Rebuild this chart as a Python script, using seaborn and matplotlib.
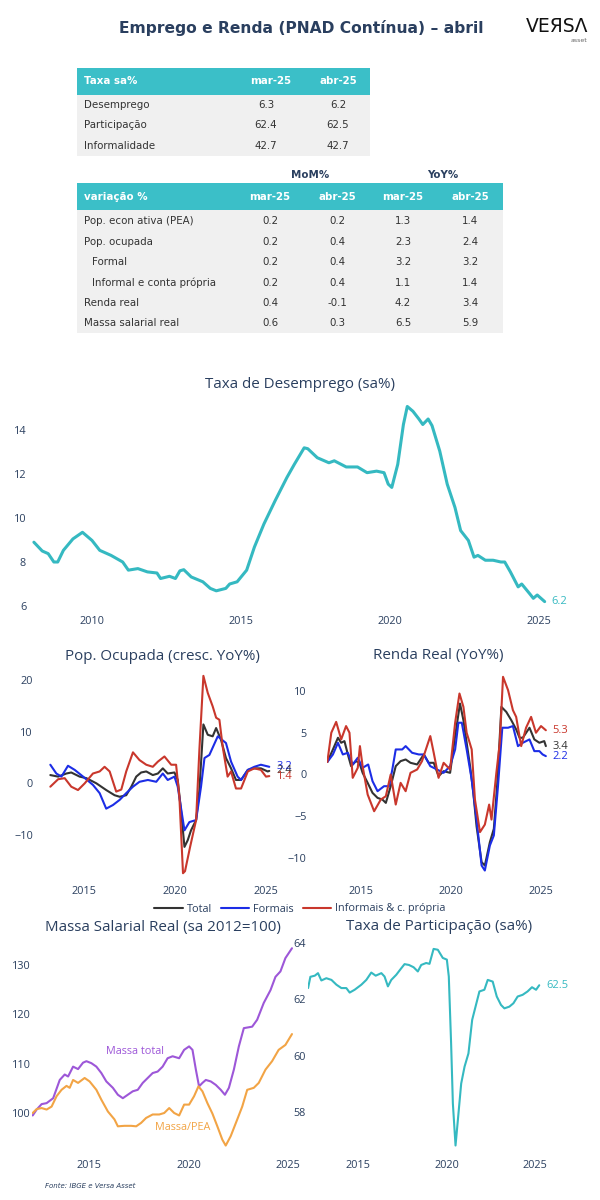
import matplotlib
matplotlib.use("Agg")
import matplotlib.pyplot as plt
from matplotlib.lines import Line2D
from matplotlib.patches import Rectangle
import seaborn as sns

# ---- tables ----
tax_cols = ["mar-25", "abr-25"]
tax_rows = ["Desemprego", "Participação", "Informalidade"]
tax_vals = [[6.3, 6.2], [62.4, 62.5], [42.7, 42.7]]

var_rows = ["Pop. econ ativa (PEA)", "Pop. ocupada", "Formal",
            "Informal e conta própria", "Renda real", "Massa salarial real"]
var_indent = [False, False, True, True, False, False]
var_mom = [[0.2, 0.2], [0.2, 0.4], [0.2, 0.4], [0.2, 0.4], [0.4, -0.1], [0.6, 0.3]]
var_yoy = [[1.3, 1.4], [2.3, 2.4], [3.2, 3.2], [1.1, 1.4], [4.2, 3.4], [6.5, 5.9]]

# ---- Taxa de desemprego (sa%) ----
unemp_t = [2008.05, 2008.33, 2008.53, 2008.72, 2008.85, 2009.04, 2009.36, 2009.68, 2010.0,
           2010.26, 2010.64, 2011.03, 2011.22, 2011.54, 2011.86, 2012.18, 2012.3, 2012.6,
           2012.8, 2012.95, 2013.08, 2013.33, 2013.72, 2013.97, 2014.17, 2014.49, 2014.62,
           2014.87, 2015.19, 2015.45, 2015.77, 2016.15, 2016.54, 2016.79, 2017.12, 2017.24,
           2017.56, 2017.95, 2018.13, 2018.53, 2018.91, 2019.23, 2019.55, 2019.8, 2019.94,
           2020.06, 2020.26, 2020.45, 2020.58, 2020.77, 2020.97, 2021.1, 2021.28, 2021.41,
           2021.67, 2021.92, 2022.18, 2022.37, 2022.63, 2022.82, 2022.95, 2023.2, 2023.46,
           2023.72, 2023.85, 2024.04, 2024.3, 2024.42, 2024.68, 2024.81, 2024.94, 2025.19]
unemp_v = [8.9, 8.5, 8.38, 8.0, 8.0, 8.53, 9.05, 9.35, 8.98,
           8.53, 8.3, 8.0, 7.63, 7.7, 7.55, 7.5, 7.25, 7.35,
           7.25, 7.6, 7.65, 7.32, 7.1, 6.8, 6.69, 6.8, 7.0,
           7.1, 7.63, 8.68, 9.73, 10.8, 11.84, 12.44, 13.19, 13.15,
           12.74, 12.51, 12.6, 12.32, 12.32, 12.06, 12.13, 12.06, 11.54,
           11.39, 12.44, 14.25, 15.07, 14.85, 14.5, 14.25, 14.5, 14.2,
           13.04, 11.54, 10.48, 9.43, 8.98, 8.22, 8.3, 8.08, 8.08,
           8.0, 8.0, 7.55, 6.87, 7.0, 6.57, 6.35, 6.5, 6.2]

# ---- Pop. ocupada (cresc. YoY%) ----
pop_total_t = [2013.15, 2013.58, 2014.03, 2014.3, 2014.76, 2015.13, 2015.68, 2016.22, 2016.68,
               2016.96, 2017.32, 2017.6, 2017.87, 2018.14, 2018.42, 2018.78, 2019.06, 2019.33,
               2019.6, 2019.97, 2020.15, 2020.33, 2020.52, 2020.7, 2020.88, 2021.16, 2021.34,
               2021.56, 2021.8, 2022.07, 2022.26, 2022.53, 2022.8, 2023.08, 2023.35, 2023.63,
               2024.0, 2024.36, 2024.72, 2025.09, 2025.18]
pop_total_v = [1.6, 1.3, 1.9, 2.1, 1.3, 1.0, 0.0, -1.3, -2.3,
               -2.6, -2.3, -0.65, 1.3, 2.1, 2.3, 1.6, 1.9, 2.9,
               1.9, 2.1, 0.65, -5.2, -12.3, -11.0, -9.1, -7.1, -1.3,
               11.4, 9.4, 9.1, 10.7, 8.4, 4.9, 2.9, 0.65, 0.65,
               2.6, 2.9, 2.9, 2.3, 2.4]
pop_formal_t = [2013.15, 2013.48, 2013.76, 2014.12, 2014.49, 2014.95, 2015.49, 2015.86, 2016.22,
                2016.59, 2016.96, 2017.32, 2017.69, 2018.05, 2018.51, 2018.97, 2019.33, 2019.6,
                2019.97, 2020.15, 2020.52, 2020.79, 2021.16, 2021.43, 2021.62, 2021.89, 2022.35,
                2022.8, 2023.08, 2023.44, 2023.63, 2024.0, 2024.36, 2024.72, 2025.18]
pop_formal_v = [3.6, 1.9, 1.3, 3.4, 2.6, 1.3, -0.3, -1.9, -4.9,
                -4.2, -3.2, -1.9, -0.65, 0.3, 0.65, 0.3, 1.9, 0.65,
                1.3, -0.65, -9.1, -7.5, -7.1, -0.65, 4.9, 5.5, 9.1,
                7.8, 4.2, 1.3, 0.65, 2.6, 3.2, 3.6, 3.2]
pop_inf_t = [2013.15, 2013.58, 2013.94, 2014.3, 2014.67, 2015.04, 2015.49, 2015.86, 2016.13,
             2016.41, 2016.77, 2017.05, 2017.32, 2017.69, 2018.05, 2018.42, 2018.78, 2019.06,
             2019.42, 2019.79, 2020.06, 2020.24, 2020.44, 2020.55, 2020.83, 2021.16, 2021.34,
             2021.56, 2021.8, 2022.07, 2022.26, 2022.44, 2022.62, 2022.89, 2023.08, 2023.35,
             2023.63, 2024.0, 2024.36, 2024.72, 2025.0, 2025.18]
pop_inf_v = [-0.65, 0.8, 1.0, -0.65, -1.3, 0.0, 1.9, 2.3, 3.2,
             2.3, -1.6, -1.2, 2.3, 6.0, 4.5, 3.6, 3.2, 4.2,
             5.2, 3.6, 3.6, -2.6, -17.4, -17.0, -12.3, -7.1, 6.5,
             20.8, 17.5, 14.9, 12.7, 12.3, 7.1, 1.3, 2.3, -1.0,
             -1.0, 2.3, 2.9, 2.6, 1.3, 1.4]

# ---- Renda real (YoY%) ----
renda_total_t = [2013.13, 2013.44, 2013.72, 2013.9, 2014.08, 2014.27, 2014.45, 2014.72, 2014.91,
                 2015.09, 2015.37, 2015.64, 2015.92, 2016.19, 2016.38, 2016.65, 2016.93, 2017.2,
                 2017.48, 2017.75, 2018.12, 2018.49, 2018.76, 2019.04, 2019.31, 2019.59, 2019.95,
                 2020.23, 2020.5, 2020.69, 2020.87, 2021.06, 2021.24, 2021.42, 2021.7, 2021.88,
                 2022.16, 2022.38, 2022.56, 2022.8, 2023.07, 2023.35, 2023.62, 2023.81, 2023.99,
                 2024.36, 2024.63, 2024.91, 2025.18, 2025.27]
renda_total_v = [1.5, 3.0, 4.4, 3.8, 4.0, 2.4, 1.0, 1.6, 1.4,
                 0.2, -1.0, -2.2, -2.8, -3.0, -3.4, -1.4, 1.0, 1.6,
                 1.8, 1.4, 1.2, 2.4, 1.4, 1.4, -0.2, 0.4, 0.2,
                 4.6, 8.5, 6.5, 3.8, 1.0, -2.2, -6.2, -10.5, -10.9,
                 -8.1, -6.5, -1.4, 8.1, 7.5, 6.5, 5.4, 4.4, 4.4,
                 5.6, 4.2, 3.8, 4.0, 3.4]
renda_formal_t = [2013.13, 2013.44, 2013.72, 2013.99, 2014.27, 2014.54, 2014.82, 2015.09, 2015.4,
                  2015.64, 2015.92, 2016.28, 2016.56, 2016.74, 2016.93, 2017.29, 2017.48, 2017.84,
                  2018.21, 2018.49, 2018.85, 2019.22, 2019.59, 2019.95, 2020.23, 2020.41, 2020.6,
                  2020.87, 2021.15, 2021.42, 2021.7, 2021.88, 2022.16, 2022.38, 2022.61, 2022.85,
                  2023.17, 2023.44, 2023.72, 2023.99, 2024.36, 2024.63, 2024.91, 2025.09, 2025.27]
renda_formal_v = [1.5, 2.4, 3.8, 2.4, 2.6, 1.2, 2.0, 0.8, 1.2,
                  -0.8, -2.0, -1.4, -1.4, 0.6, 3.0, 3.0, 3.4, 2.6,
                  2.4, 2.4, 1.0, 0.6, 0.2, 1.0, 3.0, 6.2, 6.2,
                  3.0, -0.6, -5.4, -10.9, -11.5, -8.5, -7.3, -1.4, 5.6,
                  5.6, 5.8, 3.4, 3.8, 4.2, 2.8, 2.8, 2.4, 2.2]
renda_inf_t = [2013.13, 2013.35, 2013.62, 2013.9, 2014.17, 2014.36, 2014.54, 2014.82, 2014.94,
               2015.09, 2015.37, 2015.73, 2016.1, 2016.38, 2016.65, 2016.93, 2017.2, 2017.48,
               2017.75, 2018.12, 2018.39, 2018.85, 2019.04, 2019.31, 2019.59, 2019.95, 2020.23,
               2020.47, 2020.69, 2020.87, 2021.15, 2021.33, 2021.61, 2021.88, 2022.12, 2022.25,
               2022.52, 2022.71, 2022.89, 2023.17, 2023.44, 2023.62, 2023.9, 2024.17, 2024.45,
               2024.72, 2025.0, 2025.27]
renda_inf_v = [1.5, 5.0, 6.3, 4.2, 5.8, 5.0, -0.4, 0.8, 3.4,
               1.0, -2.4, -4.4, -3.0, -2.6, 0.0, -3.6, -1.0, -2.0,
               0.2, 0.6, 1.6, 4.6, 2.6, -0.4, 1.4, 0.6, 6.2,
               9.7, 8.1, 5.0, 3.0, -3.0, -6.9, -6.0, -3.6, -5.4,
               0.2, 3.8, 11.7, 10.1, 7.7, 6.9, 3.4, 5.6, 6.9,
               5.0, 5.8, 5.3]

# ---- Massa salarial real (sa 2012=100) ----
massa_t = [2012.17, 2012.37, 2012.62, 2012.87, 2013.2, 2013.53, 2013.78, 2013.95, 2014.2,
           2014.45, 2014.7, 2014.87, 2015.12, 2015.37, 2015.62, 2015.87, 2016.2, 2016.45,
           2016.7, 2016.95, 2017.2, 2017.45, 2017.7, 2017.95, 2018.2, 2018.45, 2018.7,
           2018.95, 2019.2, 2019.53, 2019.78, 2020.03, 2020.2, 2020.37, 2020.53, 2020.7,
           2020.87, 2021.12, 2021.37, 2021.62, 2021.83, 2022.03, 2022.28, 2022.53, 2022.78,
           2023.2, 2023.45, 2023.78, 2024.12, 2024.37, 2024.62, 2024.87, 2025.2]
massa_v = [99.5, 100.7, 101.8, 102.0, 103.0, 106.7, 107.8, 107.4, 109.4,
           108.9, 110.2, 110.5, 110.1, 109.4, 108.1, 106.4, 105.1, 103.7,
           103.0, 103.7, 104.4, 104.7, 106.1, 107.1, 108.1, 108.4, 109.4,
           111.1, 111.5, 111.1, 112.8, 113.5, 112.8, 108.8, 105.4, 106.1,
           106.7, 106.4, 105.7, 104.7, 103.7, 105.1, 108.8, 113.5, 117.2,
           117.5, 118.9, 122.3, 124.9, 127.6, 128.7, 131.4, 133.4]
pea_t = [2012.17, 2012.37, 2012.62, 2012.87, 2013.12, 2013.37, 2013.62, 2013.87, 2014.03,
         2014.2, 2014.45, 2014.78, 2015.03, 2015.37, 2015.62, 2015.95, 2016.28, 2016.45,
         2016.78, 2017.12, 2017.37, 2017.62, 2017.87, 2018.2, 2018.53, 2018.78, 2019.03,
         2019.28, 2019.53, 2019.78, 2020.03, 2020.28, 2020.5, 2020.7, 2020.95, 2021.2,
         2021.45, 2021.7, 2021.87, 2022.12, 2022.45, 2022.7, 2022.95, 2023.28, 2023.53,
         2023.87, 2024.2, 2024.53, 2024.87, 2025.2]
pea_v = [100.0, 100.8, 101.0, 100.7, 101.3, 103.4, 104.7, 105.5, 105.1,
         106.7, 106.1, 107.1, 106.4, 104.7, 102.7, 100.3, 98.7, 97.3,
         97.4, 97.4, 97.3, 98.0, 99.0, 99.7, 99.7, 100.0, 101.0,
         100.0, 99.5, 101.7, 101.7, 103.4, 105.4, 104.4, 102.0, 99.9,
         97.3, 94.6, 93.4, 95.3, 98.7, 101.3, 104.7, 105.1, 106.1,
         108.8, 110.5, 112.8, 113.8, 116.0]

# ---- Taxa de participacao (sa%) ----
part_t = [2012.18, 2012.31, 2012.56, 2012.74, 2012.93, 2013.21, 2013.5, 2013.78, 2014.06,
          2014.34, 2014.53, 2014.81, 2015.19, 2015.47, 2015.75, 2016.0, 2016.32, 2016.5,
          2016.69, 2016.88, 2017.16, 2017.44, 2017.63, 2017.88, 2018.14, 2018.38, 2018.57,
          2018.85, 2019.04, 2019.27, 2019.51, 2019.79, 2020.02, 2020.13, 2020.26, 2020.36,
          2020.51, 2020.64, 2020.83, 2021.02, 2021.24, 2021.45, 2021.64, 2021.86, 2022.14,
          2022.33, 2022.61, 2022.84, 2023.08, 2023.27, 2023.55, 2023.78, 2024.02, 2024.3,
          2024.58, 2024.83, 2025.06, 2025.24]
part_v = [62.4, 62.8, 62.84, 62.93, 62.67, 62.75, 62.69, 62.52, 62.4,
          62.4, 62.24, 62.34, 62.52, 62.69, 62.95, 62.84, 62.93, 62.81,
          62.46, 62.69, 62.87, 63.1, 63.25, 63.22, 63.14, 62.99, 63.22,
          63.29, 63.26, 63.79, 63.76, 63.47, 63.41, 62.81, 60.44, 58.3,
          56.81, 57.7, 59.01, 59.61, 60.08, 61.27, 61.74, 62.28, 62.34,
          62.69, 62.63, 62.1, 61.8, 61.68, 61.74, 61.86, 62.1, 62.16,
          62.28, 62.43, 62.34, 62.5]

W, H = 600, 1200
NAVY = "#2a3f5f"
TEAL = "#35b9c1"
HEAD = "#3bbfc8"
ROWBG = "#f0f0f0"
TXT = "#333333"
BLACK = "#333333"
BLUE = "#1c2de6"
RED = "#c9372c"
PURPLE = "#9d57d8"
ORANGE = "#f2a445"

sns.set_theme(style="white")
plt.rcParams["font.family"] = ["Open Sans", "DejaVu Sans"]

fig = plt.figure(figsize=(6, 12), dpi=100)
fig.patch.set_facecolor("white")

# overlay in pixel coordinates for titles / tables
ov = fig.add_axes([0, 0, 1, 1])
ov.set_xlim(0, W)
ov.set_ylim(H, 0)
ov.axis("off")

ov.text(301, 28, "Emprego e Renda (PNAD Contínua) – abril", ha="center", va="center",
        fontsize=11.2, fontweight="bold", color=NAVY, family="DejaVu Sans")
ov.text(557, 26, "VEЯSΛ", ha="center", va="center", fontsize=13.5, color="#111111",
        family="DejaVu Sans")
ov.text(579, 40, "asset", ha="center", va="center", fontsize=4.5, color="#666666",
        family="DejaVu Sans")

TFONT = dict(family="DejaVu Sans", fontsize=7.4)

# table 1
ov.add_patch(Rectangle((77, 68), 293, 27, color=HEAD, lw=0))
ov.add_patch(Rectangle((77, 95), 293, 61, color=ROWBG, lw=0))
ov.text(84, 81.5, "Taxa sa%", ha="left", va="center", color="white", fontweight="bold", **TFONT)
t1_x = [271, 338]
for j, c in enumerate(tax_cols):
    ov.text(t1_x[j], 81.5, c, ha="center", va="center", color="white", fontweight="bold", **TFONT)
for i, r in enumerate(tax_rows):
    y = 105 + i * 20.5
    ov.text(84, y, r, ha="left", va="center", color=TXT, **TFONT)
    for j in range(2):
        ov.text(t1_x[j] - 5 if j == 0 else t1_x[j], y, f"{tax_vals[i][j]:.1f}",
                ha="center", va="center", color=TXT, **TFONT)

# table 2
ov.text(310, 175, "MoM%", ha="center", va="center", color=NAVY, fontweight="bold", **TFONT)
ov.text(443, 175, "YoY%", ha="center", va="center", color=NAVY, fontweight="bold", **TFONT)
ov.add_patch(Rectangle((77, 183), 426, 27, color=HEAD, lw=0))
ov.add_patch(Rectangle((77, 210), 426, 123, color=ROWBG, lw=0))
ov.text(84, 196.5, "variação %", ha="left", va="center", color="white", fontweight="bold", **TFONT)
t2_x = [270, 337, 403, 470]
for j, c in enumerate(tax_cols + tax_cols):
    ov.text(t2_x[j], 196.5, c, ha="center", va="center", color="white", fontweight="bold", **TFONT)
for i, r in enumerate(var_rows):
    y = 221.5 + i * 20.4
    ov.text(92 if var_indent[i] else 84, y, r, ha="left", va="center", color=TXT, **TFONT)
    vals = var_mom[i] + var_yoy[i]
    for j, v in enumerate(vals):
        ov.text(t2_x[j], y, f"{v:.1f}", ha="center", va="center", color=TXT, **TFONT)


def place_axes(xcal, ycal, xlim, ylim):
    (ta, pa), (tb, pb) = xcal
    sx = (pb - pa) / (tb - ta)
    left = pa + (xlim[0] - ta) * sx
    right = pa + (xlim[1] - ta) * sx
    (va, qa), (vb, qb) = ycal
    sy = (qb - qa) / (vb - va)
    bottom = qa + (ylim[0] - va) * sy
    top = qa + (ylim[1] - va) * sy
    ax = fig.add_axes([left / W, 1 - bottom / H, (right - left) / W, (bottom - top) / H])
    ax.set_xlim(xlim)
    ax.set_ylim(ylim)
    ax.patch.set_alpha(0)
    for s in ax.spines.values():
        s.set_visible(False)
    ax.grid(False)
    return ax


def style(ax, yticks, xpad, ypad):
    ax.set_xticks([2010, 2015, 2020, 2025] if ax.get_xlim()[0] < 2010 else [2015, 2020, 2025])
    ax.set_yticks(yticks)
    ax.tick_params(axis="x", length=0, labelsize=7.8, colors=NAVY, pad=xpad)
    ax.tick_params(axis="y", length=0, labelsize=7.8, colors=NAVY, pad=ypad)
    ax.set_xlabel("")
    ax.set_ylabel("")
    ax.set_yticklabels([f"{t:g}".replace("-", "\u2212") for t in yticks])


def line(ax, t, v, color, lw):
    sns.lineplot(x=t, y=v, ax=ax, color=color, linewidth=lw, sort=False, estimator=None)


def end_label(ax, t, v, color, dx=5):
    ax.annotate(f"{v[-1]:.1f}", xy=(t[-1], v[-1]), xytext=(dx, 0), textcoords="offset points",
                ha="left", va="center", fontsize=8, color=color, annotation_clip=False)


TITLE = dict(ha="center", va="center", fontsize=10.9, color=NAVY)

# chart 1
ax1 = place_axes(((2010, 92), (2025, 539)), ((6, 606), (14, 430)), (2008.0, 2026.1), (5.8, 15.4))
line(ax1, unemp_t, unemp_v, TEAL, 2.2)
style(ax1, [6, 8, 10, 12, 14], 4, 4.5)
end_label(ax1, unemp_t, unemp_v, TEAL)
ov.text(300, 384, "Taxa de Desemprego (sa%)", **TITLE)

# chart 2
ax2 = place_axes(((2015, 84), (2025, 266)), ((-10, 835), (20, 680)), (2013.1, 2025.7), (-18.5, 21.8))
line(ax2, pop_total_t, pop_total_v, BLACK, 1.5)
line(ax2, pop_formal_t, pop_formal_v, BLUE, 1.5)
line(ax2, pop_inf_t, pop_inf_v, RED, 1.5)
style(ax2, [-10, 0, 10, 20], 5, 12)
end_label(ax2, pop_formal_t, pop_formal_v, BLUE)
end_label(ax2, pop_total_t, pop_total_v, BLACK)
end_label(ax2, pop_inf_t, pop_inf_v, RED)
ov.text(162, 656, "Pop. Ocupada (cresc. YoY%)", **TITLE)

# chart 3
ax3 = place_axes(((2015, 361), (2025, 541)), ((-10, 858), (10, 691)), (2013.1, 2025.8), (-12.7, 12.6))
line(ax3, renda_total_t, renda_total_v, BLACK, 1.5)
line(ax3, renda_formal_t, renda_formal_v, BLUE, 1.5)
line(ax3, renda_inf_t, renda_inf_v, RED, 1.5)
style(ax3, [-10, -5, 0, 5, 10], 4, 14.5)
end_label(ax3, renda_inf_t, renda_inf_v, RED)
end_label(ax3, renda_total_t, renda_total_v, BLACK)
end_label(ax3, renda_formal_t, renda_formal_v, BLUE)
ov.text(438, 656, "Renda Real (YoY%)", **TITLE)

# shared legend
handles = [Line2D([], [], color=BLACK, lw=1.5), Line2D([], [], color=BLUE, lw=1.5),
           Line2D([], [], color=RED, lw=1.5)]
fig.legend(handles, ["Total", "Formais", "Informais & c. própria"], loc="center",
           bbox_to_anchor=(300 / W, 1 - 909 / H), ncol=3, frameon=False, fontsize=7.8,
           handlelength=2.6, columnspacing=0.8, handletextpad=0.4, labelcolor=NAVY)

# chart 4
ax4 = place_axes(((2015, 89), (2025, 288)), ((100, 1113), (130, 965)), (2012.15, 2025.4), (92, 135.5))
line(ax4, massa_t, massa_v, PURPLE, 1.5)
line(ax4, pea_t, pea_v, ORANGE, 1.5)
style(ax4, [100, 110, 120, 130], 5.5, 1)
ax4.text(2017.31, 112.4, "Massa total", ha="center", va="center", fontsize=7.8, color=PURPLE)
ax4.text(2019.71, 97.1, "Massa/PEA", ha="center", va="center", fontsize=7.8, color=ORANGE)
ov.text(163, 927, "Massa Salarial Real (sa 2012=100)", **TITLE)

# chart 5
ax5 = place_axes(((2015, 358), (2025, 535)), ((58, 1112), (64, 943)), (2012.15, 2027.2), (56.5, 64.2))
line(ax5, part_t, part_v, TEAL, 1.5)
style(ax5, [58, 60, 62, 64], 4, 1)
end_label(ax5, part_t, part_v, TEAL)
ov.text(439, 927, "Taxa de Participação (sa%)", **TITLE)

ov.text(45, 1186, "Fonte: IBGE e Versa Asset", ha="left", va="center", fontsize=5,
        style="italic", color=NAVY, family="DejaVu Sans")

fig.savefig("out.png", dpi=100)
